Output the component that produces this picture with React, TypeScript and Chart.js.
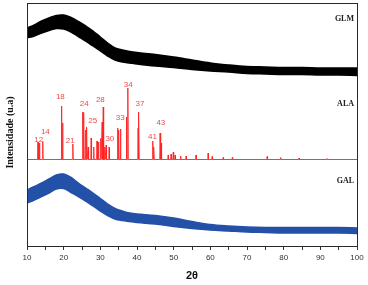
import React, { useEffect, useRef } from "react";
import { Chart, registerables } from "chart.js";

Chart.register(...registerables);

// 2θ grid used for the amorphous band envelopes
const ENVELOPE_2THETA = [10, 12, 14, 16, 18, 20, 22, 24, 26, 28, 30, 32, 34, 36, 38, 40, 45, 50, 55, 60, 65, 70, 75, 80, 85, 90, 95, 100];

// GLM (black, amorphous) – upper / lower edge of the noisy band (offset intensity, a.u.)
const GLM_UPPER = [218, 221, 225, 228, 230.5, 231, 228.5, 224.5, 220, 215, 209, 203, 198, 196, 194.5, 193.5, 191.5, 189, 186, 183, 181, 179.5, 179, 178.5, 178.5, 178, 178, 178];
const GLM_LOWER = [208, 210, 213, 215.5, 217.5, 217, 214, 209.5, 205, 200, 195, 190, 186, 184, 183, 182, 180, 178.5, 176.5, 175, 174, 172.5, 172, 171.5, 171.5, 171, 171, 170.5];

// GAL (blue, amorphous) – upper / lower edge of the noisy band
const GAL_UPPER = [56, 59.5, 63, 67, 71, 72, 68.5, 63, 58, 53, 47.5, 42, 37.5, 35, 33, 32, 30.5, 28, 24.5, 21.5, 20, 19, 18.5, 18.5, 18.5, 18.5, 18.5, 18];
const GAL_LOWER = [43, 46, 49.5, 53, 57, 57.5, 53.5, 49.5, 45, 40, 35, 30.5, 27, 25.5, 24.5, 23.5, 22, 19.5, 17.5, 16, 15, 14, 13.5, 13, 13, 13, 13, 12.5];

// ALA (red, crystalline) – baseline and reflections
const ALA_BASELINE = 86.5;
const ALA_PEAK_2THETA = [13.0, 13.4, 14.3, 19.4, 19.7, 22.5, 25.2, 25.5, 26.0, 26.3, 26.7, 27.5, 28.2, 29.1, 29.5, 30.1, 30.5, 30.8, 31.2, 31.6, 32.4, 34.7, 35.0, 35.5, 37.1, 37.5, 40.3, 40.5, 44.3, 44.6, 46.3, 46.6, 48.5, 49.3, 49.9, 50.4, 51.9, 53.4, 56.1, 59.4, 60.5, 63.5, 66.0, 75.5, 79.2, 84.2, 91.8];
const ALA_PEAK_INT = [104, 103, 104.5, 140, 123, 102, 134, 133.5, 116, 119, 99, 108, 99, 105, 104, 107.5, 124, 139, 99, 101, 99, 118, 116, 117, 129, 158, 118, 134, 105, 99, 113, 103, 91, 92, 94, 91, 90, 90, 91, 93, 89.5, 88.5, 88.5, 89.5, 88.5, 88, 87.5];

// Peak annotations
const ALA_LABELS = ["12", "14", "18", "21", "24", "25", "28", "30", "33", "34", "37", "41", "43"];
const ALA_LABEL_2THETA = [13.2, 15.0, 19.1, 21.8, 25.6, 27.9, 30.0, 32.6, 35.4, 37.6, 40.8, 44.2, 46.5];
const ALA_LABEL_INT = [106, 114.3, 149.3, 105.3, 142.7, 125, 146, 107, 128, 161.5, 142, 109.3, 123.7];

// Series names shown at the right
const SERIES_NAMES = ["GLM", "ALA", "GAL"];
const SERIES_NAME_INT = [227, 142, 65.5];

const X_MIN = 10;
const X_MAX = 100;
const X_STEP = 5;
const Y_MIN = 0;
const Y_MAX = 243;

const PEAK_HALF_WIDTH = 0.1;

function buildEnvelope(values: number[]) {
  return ENVELOPE_2THETA.map((x, i) => ({ x, y: values[i] }));
}

function buildAla() {
  const pts: { x: number; y: number }[] = [{ x: X_MIN, y: ALA_BASELINE }];
  ALA_PEAK_2THETA.forEach((p, i) => {
    pts.push({ x: p - PEAK_HALF_WIDTH, y: ALA_BASELINE });
    pts.push({ x: p, y: ALA_PEAK_INT[i] });
    pts.push({ x: p + PEAK_HALF_WIDTH, y: ALA_BASELINE });
  });
  pts.push({ x: X_MAX, y: ALA_BASELINE });
  return pts;
}

const decorPlugin = {
  id: "decor",
  afterDraw(chart: any) {
    const ctx = chart.ctx as CanvasRenderingContext2D;
    const { left, right, top, bottom } = chart.chartArea;
    const xs = chart.scales.x;
    const ys = chart.scales.y;
    ctx.save();

    // frame
    ctx.strokeStyle = "#2a2a2a";
    ctx.lineWidth = 1;
    ctx.strokeRect(Math.round(left) + 0.5, Math.round(top) + 0.5, Math.round(right - left), Math.round(bottom - top));

    // peak labels
    ctx.fillStyle = "#f24a4a";
    ctx.font = "8px 'Liberation Sans', Arial, sans-serif";
    ctx.textAlign = "center";
    ctx.textBaseline = "middle";
    ALA_LABELS.forEach((t, i) => {
      ctx.fillText(t, xs.getPixelForValue(ALA_LABEL_2THETA[i]), ys.getPixelForValue(ALA_LABEL_INT[i]));
    });

    // series names
    ctx.fillStyle = "#222";
    ctx.font = "bold 8px 'Liberation Serif', 'Times New Roman', serif";
    ctx.textAlign = "right";
    SERIES_NAMES.forEach((t, i) => {
      ctx.fillText(t, right - 3, ys.getPixelForValue(SERIES_NAME_INT[i]));
    });

    // x title
    ctx.fillStyle = "#111";
    ctx.font = "bold 11px 'Liberation Sans', Arial, sans-serif";
    ctx.textAlign = "center";
    ctx.fillText("2θ", (left + right) / 2, 276);

    // y title
    ctx.translate(10, (top + bottom) / 2 + 8);
    ctx.rotate(-Math.PI / 2);
    ctx.font = "bold 10px 'Liberation Serif', 'Times New Roman', serif";
    ctx.fillStyle = "#111";
    ctx.fillText("Intensidade (u.a)", 0, 0);
    ctx.restore();
  },
};

export default function App() {
  const canvasRef = useRef<HTMLCanvasElement | null>(null);

  useEffect(() => {
    const canvas = canvasRef.current;
    if (!canvas) return;
    const chart = new Chart(canvas, {
      type: "line",
      data: {
        datasets: [
          {
            label: "GLM upper",
            data: buildEnvelope(GLM_UPPER),
            borderColor: "#000",
            borderWidth: 1.5,
            pointRadius: 0,
            tension: 0.35,
            fill: false,
          },
          {
            label: "GLM",
            data: buildEnvelope(GLM_LOWER),
            borderColor: "#000",
            backgroundColor: "#000",
            borderWidth: 1.5,
            pointRadius: 0,
            tension: 0.35,
            fill: "-1",
          },
          {
            label: "ALA",
            data: buildAla(),
            borderColor: "#ff2222",
            borderWidth: 0.9,
            pointRadius: 0,
            tension: 0,
            fill: false,
          },
          {
            label: "GAL upper",
            data: buildEnvelope(GAL_UPPER),
            borderColor: "#2451a8",
            borderWidth: 1.5,
            pointRadius: 0,
            tension: 0.35,
            fill: false,
          },
          {
            label: "GAL",
            data: buildEnvelope(GAL_LOWER),
            borderColor: "#2451a8",
            backgroundColor: "#2451a8",
            borderWidth: 1.5,
            pointRadius: 0,
            tension: 0.35,
            fill: "-1",
          },
        ],
      },
      options: {
        animation: false,
        responsive: false,
        devicePixelRatio: 1,
        layout: { padding: { left: 27, top: 3, right: 11, bottom: 0 } },
        plugins: {
          legend: { display: false },
          tooltip: { enabled: false },
        },
        scales: {
          x: {
            type: "linear",
            min: X_MIN,
            max: X_MAX,
            ticks: {
              stepSize: X_STEP,
              autoSkip: false,
              maxRotation: 0,
              padding: 3,
              color: "#333",
              font: { family: "'Liberation Sans', Arial, sans-serif", size: 8 },
              callback: (v: any) => (Number(v) % 10 === 0 ? String(v) : ""),
            },
            grid: {
              drawOnChartArea: false,
              drawTicks: true,
              tickLength: 4,
              color: "#333",
            },
            border: { display: false },
            afterFit: (scale: any) => {
              scale.height = 39;
            },
          },
          y: {
            display: false,
            min: Y_MIN,
            max: Y_MAX,
          },
        },
      },
      plugins: [decorPlugin],
    });
    return () => chart.destroy();
  }, []);

  return (
    <div style={{ position: "absolute", left: 0, top: 0, width: 368, height: 285, background: "#fff" }}>
      <canvas ref={canvasRef} width={368} height={285} />
    </div>
  );
}
